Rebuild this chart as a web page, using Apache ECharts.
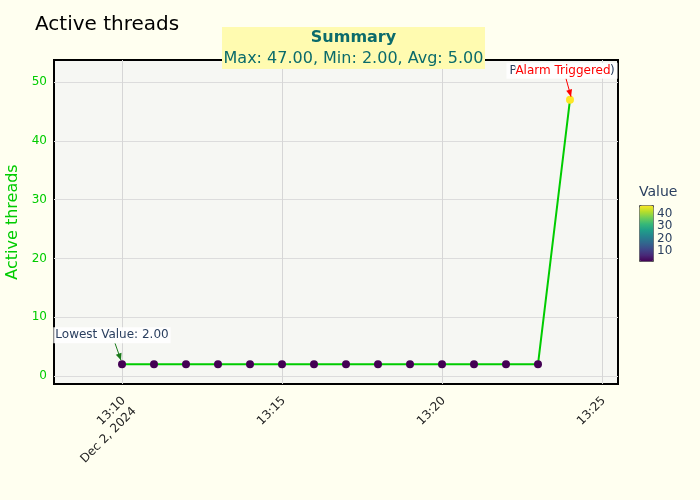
<!DOCTYPE html>
<html>
<head>
<meta charset="utf-8">
<script src="https://cdn.jsdelivr.net/npm/echarts@6/dist/echarts.min.js"></script>
<style>
html,body{margin:0;padding:0;background:#fffff0;}
#chart{width:700px;height:500px;}
</style>
</head>
<body>
<div id="chart"></div>
<script>
// ---- data ----
const times = ["13:10","13:11","13:12","13:13","13:14","13:15","13:16","13:17","13:18","13:19","13:20","13:21","13:22","13:23","13:24"];
const values = [2,2,2,2,2,2,2,2,2,2,2,2,2,2,47];
const xTickValues = ["13:10","13:15","13:20","13:25"];
const xTickLabels = ["13:10\nDec 2, 2024","13:15","13:20","13:25"];
const yTickValues = [0,10,20,30,40,50];
const colorbarTicks = [10,20,30,40];
const titleText = "Active threads";
const yAxisTitle = "Active threads";
const summaryTitle = "Summary";
const summaryText = "Max: 47.00, Min: 2.00, Avg: 5.00";
const lowLabel = "Lowest Value: 2.00";
const peakLabel = "Peak Value (47.0)";
const alarmLabel = "Alarm Triggered";

const toMin = t => { const p = t.split(":"); return (+p[0])*60 + (+p[1]); };
const xs = times.map(toMin);
const seriesData = xs.map((x,i)=>[x, values[i]]);
const tickMins = xTickValues.map(toMin);
const labelFor = {};
tickMins.forEach((m,i)=>labelFor[m]=xTickLabels[i]);

const viridis = ['#440154','#482878','#3e4989','#31688e','#26828e','#1f9e89','#35b779','#6ece58','#b5de2b','#fde725'];
const vMin = Math.min(...values), vMax = Math.max(...values);
const FONT = "DejaVu Sans";
const GREEN = "#00cc00";

const chart = echarts.init(document.getElementById('chart'), null, {renderer:'canvas'});
const option = {
  backgroundColor: '#fffff0',
  textStyle: {fontFamily: FONT},
  animation: false,
  title: {text: titleText, left: 30, top: 10, textStyle:{fontFamily:FONT, fontSize:20, fontWeight:'normal', color:'#000'}},
  grid: {left:54, right:82, top:60, bottom:116, show:true, backgroundColor:'#f6f7f3', borderColor:'#000', borderWidth:2, containLabel:false, outerBoundsMode:'none'},
  xAxis: {
    type:'value', min: toMin("13:10")-2.125, max: toMin("13:25")+0.5,
    axisLine:{show:false}, axisTick:{show:false, customValues: tickMins},
    splitLine:{show:true, lineStyle:{color:'#d6d6d6', width:1}},
    axisLabel:{customValues: tickMins, rotate:45, margin:6, fontSize:12, color:'#222', fontFamily:FONT,
      lineHeight:15, align:'right', verticalAlign:'top', padding:[0,5,0,0],
      formatter: v => labelFor[v] || ''}
  },
  yAxis: {
    type:'value', min:-1.36, max:53.74,
    name: yAxisTitle, nameLocation:'middle', nameGap:32, nameRotate:90,
    nameTextStyle:{color:GREEN, fontSize:16, fontFamily:FONT},
    axisLine:{show:false}, axisTick:{show:false, customValues: yTickValues},
    splitLine:{show:true, lineStyle:{color:'#dcdcdc', width:1}},
    axisLabel:{customValues: yTickValues, margin:7, fontSize:12, color:GREEN, fontFamily:FONT}
  },
  visualMap: {
    type:'continuous', seriesIndex:1, dimension:1, min:vMin, max:vMax,
    inRange:{color: viridis}, calculable:false, show:true,
    left:639, top:205, itemWidth:14, itemHeight:56, text:null, showLabel:false,
    padding:0, borderWidth:1, borderColor:'#555'
  },
  series: [
    {type:'line', data: seriesData, symbol:'none', lineStyle:{color:GREEN, width:2}, itemStyle:{color:GREEN}, z:2},
    {type:'scatter', data: seriesData, symbolSize:8, itemStyle:{opacity:1}, z:3}
  ]
};
chart.setOption(option);

function addGraphics(){
  const low = chart.convertToPixel({gridIndex:0}, seriesData[0]);
  const peak = chart.convertToPixel({gridIndex:0}, seriesData[seriesData.length-1]);
  const elements = [];
  // colorbar title and ticks
  const cbTop = 205, cbH = 56;
  elements.push({type:'text', left:639, top:185, style:{text:'Value', font:'14px "DejaVu Sans"', fill:'#2a3f5f'}, z:20});
  colorbarTicks.forEach(t=>{
    const y = cbTop + cbH*(vMax - t)/(vMax - vMin);
    elements.push({type:'text', x:657, y:y, style:{text:String(t), font:'12px "DejaVu Sans"', fill:'#2a3f5f', verticalAlign:'middle'}, z:20});
  });
  // summary box
  const cx = 353.5;
  elements.push({type:'rect', shape:{x:222, y:27, width:263, height:42}, style:{fill:'#fffbb0'}, z:20});
  elements.push({type:'text', x:cx, y:38, style:{text:summaryTitle, font:'bold 16px "DejaVu Sans"', fill:'#0b6b6b', align:'center', verticalAlign:'middle'}, z:21});
  elements.push({type:'text', x:cx, y:59, style:{text:summaryText, font:'16px "DejaVu Sans"', fill:'#0b6b6b', align:'center', verticalAlign:'middle'}, z:21});
  // lowest value annotation
  const lx = low[0]-10, ly = low[1]-29;
  elements.push({type:'line', shape:{x1:lx+3, y1:ly+8, x2:low[0]-1, y2:low[1]-4}, style:{stroke:'#1a7a1a', lineWidth:1}, z:15});
  elements.push({type:'polygon', shape:{points: arrowHead(lx+3, ly+8, low[0]-1, low[1]-4)}, style:{fill:'#1a7a1a'}, z:15});
  elements.push({type:'text', x:lx, y:ly, style:{text:lowLabel, font:'12px "DejaVu Sans"', fill:'#2a3f5f', align:'center', verticalAlign:'middle', backgroundColor:'rgba(255,255,255,0.85)', padding:[2,2]}, z:16});
  // peak annotations
  const px = peak[0]-8, py = peak[1]-29;
  elements.push({type:'text', x:px, y:py, style:{text:peakLabel, font:'12px "DejaVu Sans"', fill:'#2a3f5f', align:'center', verticalAlign:'middle', backgroundColor:'rgba(255,255,255,0.85)', padding:[2,3]}, z:16});
  elements.push({type:'text', x:px+1, y:py, style:{text:alarmLabel, font:'12px "DejaVu Sans"', fill:'#ff0000', align:'center', verticalAlign:'middle', backgroundColor:'#ffffff', padding:[1,0]}, z:17});
  elements.push({type:'line', shape:{x1:px+4, y1:py+8, x2:peak[0]+1, y2:peak[1]-3}, style:{stroke:'#ff0000', lineWidth:1}, z:15});
  elements.push({type:'polygon', shape:{points: arrowHead(px+4, py+8, peak[0]+1, peak[1]-3)}, style:{fill:'#ff0000'}, z:15});
  chart.setOption({graphic:{elements}});
}
function arrowHead(x1,y1,x2,y2){
  const a = Math.atan2(y2-y1, x2-x1), L=7, W=3;
  const bx = x2 - L*Math.cos(a), by = y2 - L*Math.sin(a);
  return [[x2,y2],[bx + W*Math.sin(a), by - W*Math.cos(a)],[bx - W*Math.sin(a), by + W*Math.cos(a)]];
}
addGraphics();
</script>
</body>
</html>
